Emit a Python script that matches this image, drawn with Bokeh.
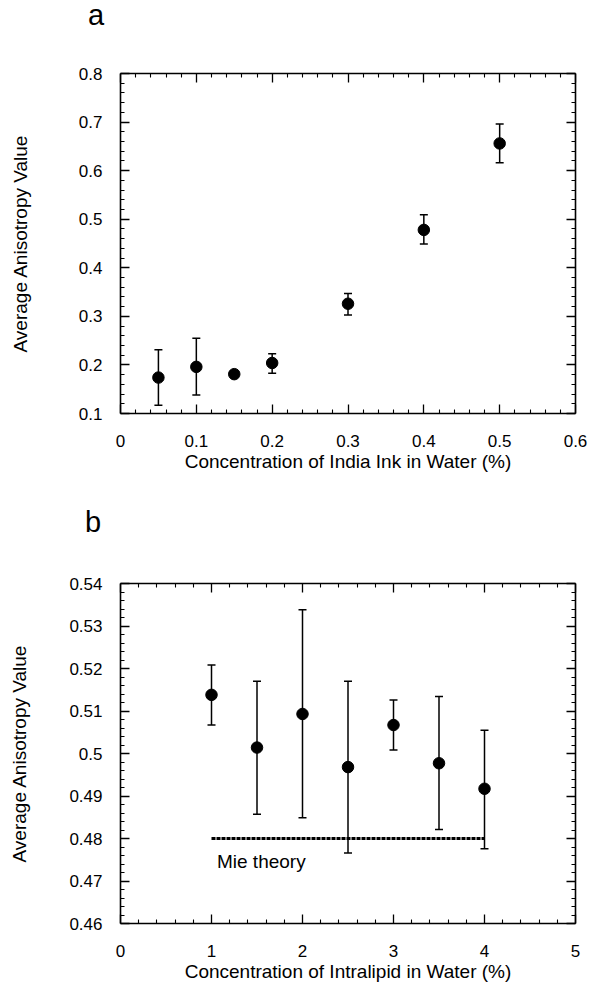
import numpy as np
from bokeh.plotting import figure
from bokeh.models import (ColumnDataSource, Whisker, TeeHead, Range1d, LinearAxis,
                          FixedTicker, Label, Div)
from bokeh.layouts import column
from bokeh.embed import file_html
from bokeh.resources import INLINE

# ---------------- data ----------------
# panel a : India ink
a_x = [0.05, 0.1, 0.15, 0.2, 0.3, 0.4, 0.5]
a_y = [0.174, 0.196, 0.181, 0.204, 0.326, 0.478, 0.656]
a_hi = [0.231, 0.255, None, 0.223, 0.347, 0.509, 0.696]
a_lo = [0.117, 0.138, None, 0.183, 0.303, 0.449, 0.616]

# panel b : Intralipid
b_x = [1, 1.5, 2, 2.5, 3, 3.5, 4]
b_y = [0.5138, 0.5014, 0.5093, 0.4968, 0.5067, 0.4977, 0.4917]
b_hi = [0.5208, 0.5170, 0.5338, 0.5170, 0.5126, 0.5134, 0.5055]
b_lo = [0.5067, 0.4857, 0.4849, 0.4766, 0.5008, 0.4821, 0.4776]
mie_x = [1, 4]
mie_y = [0.48, 0.48]
mie_text = "Mie theory"

# ticks
a_xticks = [0, 0.1, 0.2, 0.3, 0.4, 0.5, 0.6]
a_xlabels = ["0", "0.1", "0.2", "0.3", "0.4", "0.5", "0.6"]
a_yticks = [0.1, 0.2, 0.3, 0.4, 0.5, 0.6, 0.7, 0.8]
a_ylabels = ["0.1", "0.2", "0.3", "0.4", "0.5", "0.6", "0.7", "0.8"]
b_xticks = [0, 1, 2, 3, 4, 5]
b_xlabels = ["0", "1", "2", "3", "4", "5"]
b_yticks = [0.46, 0.47, 0.48, 0.49, 0.5, 0.51, 0.52, 0.53, 0.54]
b_ylabels = ["0.46", "0.47", "0.48", "0.49", "0.5", "0.51", "0.52", "0.53", "0.54"]

FONT = "Liberation Sans"
TICK_FS = "17px"
LABEL_FS = "19px"


def minor_list(ticks, n=5):
    out = []
    for t0, t1 in zip(ticks[:-1], ticks[1:]):
        for k in range(1, n):
            out.append(round(t0 + (t1 - t0) * k / n, 6))
    return out


def style_axis(ax, ticks, labels, show):
    ax.ticker = FixedTicker(ticks=ticks, minor_ticks=minor_list(ticks))
    ax.major_label_overrides = {t: l for t, l in zip(ticks, labels)}
    ax.axis_line_width = 1.6
    ax.axis_line_color = "black"
    ax.major_tick_in = 9
    ax.major_tick_out = 0
    ax.minor_tick_in = 4
    ax.minor_tick_out = 0
    ax.major_tick_line_width = 1.3
    ax.minor_tick_line_width = 1.1
    ax.major_tick_line_color = "black"
    ax.minor_tick_line_color = "black"
    ax.major_label_text_font = FONT
    ax.major_label_text_color = "black"
    ax.axis_label_text_font = FONT
    ax.axis_label_text_font_style = "normal"
    ax.axis_label_text_font_size = LABEL_FS
    ax.axis_label_text_color = "black"
    if show:
        ax.major_label_text_font_size = TICK_FS
    else:
        ax.major_label_text_font_size = "0px"
        ax.major_label_standoff = 0
        ax.axis_label = None


def make_panel(xr, yr, xt, xl, yt, yl, xlabel, top, bottom, ylab_standoff):
    p = figure(x_range=Range1d(*xr), y_range=Range1d(*yr),
               frame_width=455, frame_height=340,
               min_border_left=120, min_border_right=14,
               min_border_top=top, min_border_bottom=bottom,
               output_backend="svg", toolbar_location=None,
               background_fill_color="white", border_fill_color="white")
    p.outline_line_color = None
    p.grid.visible = False
    p.xaxis.axis_label = xlabel
    p.yaxis.axis_label = "Average Anisotropy Value"
    style_axis(p.xaxis[0], xt, xl, True)
    style_axis(p.yaxis[0], yt, yl, True)
    p.xaxis[0].major_label_standoff = 21
    p.xaxis[0].axis_label_standoff = 1
    p.yaxis[0].major_label_standoff = 18
    p.yaxis[0].axis_label_standoff = ylab_standoff
    top_ax = LinearAxis()
    right_ax = LinearAxis()
    style_axis(top_ax, xt, xl, False)
    style_axis(right_ax, yt, yl, False)
    p.add_layout(top_ax, "above")
    p.add_layout(right_ax, "right")
    return p


def add_points(p, xs, ys, his, los):
    src = ColumnDataSource(dict(x=xs, y=ys))
    ex = [x for x, h in zip(xs, his) if h is not None]
    eh = [h for h in his if h is not None]
    el = [l for l in los if l is not None]
    esrc = ColumnDataSource(dict(x=ex, hi=eh, lo=el))
    w = Whisker(source=esrc, base="x", upper="hi", lower="lo",
                line_width=1.5, line_color="black",
                upper_head=TeeHead(size=8, line_width=1.5, line_color="black"),
                lower_head=TeeHead(size=8, line_width=1.5, line_color="black"))
    p.add_layout(w)
    p.scatter("x", "y", source=src, size=11.5, color="black")


def panel_letter(letter, pad):
    html = ('<div style="font-family:\'Liberation Sans\';font-size:29px;line-height:27px;'
            'padding-left:%dpx;padding-top:2px;margin:0;color:black;">%s</div>' % (pad, letter))
    return Div(text=html, width=590, height=30, margin=0)


# ---------------- panel a ----------------
div_a = panel_letter("a", 88)
pa = make_panel((0, 0.6), (0.1, 0.8), a_xticks, a_xlabels, a_yticks, a_ylabels,
                "Concentration of India Ink in Water (%)", top=43, bottom=94,
                ylab_standoff=45)
add_points(pa, a_x, a_y, a_hi, a_lo)

# ---------------- panel b ----------------
div_b = panel_letter("b", 85)
pb = make_panel((0, 5), (0.46, 0.54), b_xticks, b_xlabels, b_yticks, b_ylabels,
                "Concentration of Intralipid in Water (%)", top=46, bottom=10,
                ylab_standoff=36)
add_points(pb, b_x, b_y, b_hi, b_lo)
pb.line(mie_x, mie_y, line_width=3, line_dash="4 1", color="black")
pb.add_layout(Label(x=1.06, y=0.4745, text=mie_text, text_font=FONT,
                    text_font_size="19px", text_color="black", text_baseline="alphabetic"))

layout = column(div_a, pa, div_b, pb, spacing=0)
open("out.html", "w").write(file_html(layout, INLINE))
